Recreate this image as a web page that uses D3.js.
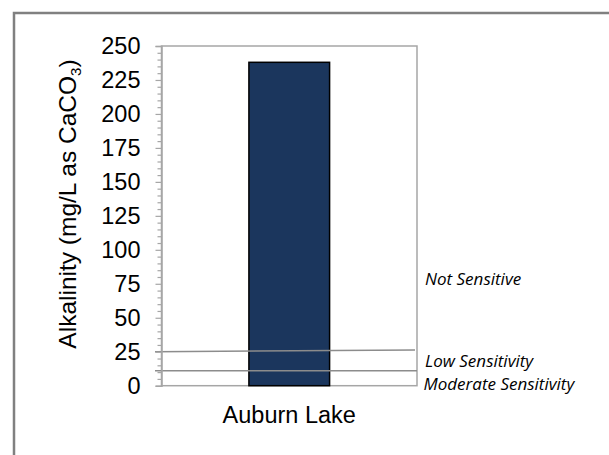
<!DOCTYPE html>
<html>
<head>
<meta charset="utf-8">
<script src="https://cdn.jsdelivr.net/npm/d3@7/dist/d3.min.js"></script>
<style>
  html, body { margin: 0; padding: 0; background: #fff; }
  svg { display: block; }
</style>
</head>
<body>
<svg id="chart" width="609" height="455"></svg>
<script>
// ---- data ----
const categories = ["Auburn Lake"];
const alkalinity = [238];
const yTickValues = [0, 25, 50, 75, 100, 125, 150, 175, 200, 225, 250];
const thresholdStart = [25, 11];
const thresholdEnd = [26.2, 11];
const zoneLabels = ["Not Sensitive", "Low Sensitivity", "Moderate Sensitivity"];
const zoneLabelValues = [74, 14, -3];

// ---- layout ----
const svg = d3.select("#chart");
const plotLeft = 161.5, plotRight = 417, plotTop = 46, plotBottom = 385.7;

const x = d3.scaleBand().domain(categories).range([plotLeft, plotRight]).padding(0.52);
const y = d3.scaleLinear().domain([0, 250]).range([plotBottom, plotTop]);

// outer border
svg.append("rect")
  .attr("x", 14).attr("y", 13).attr("width", 620).attr("height", 470)
  .attr("fill", "none").attr("stroke", "#808080").attr("stroke-width", 2.5);

// plot frame
svg.append("rect")
  .attr("x", plotLeft).attr("y", plotTop).attr("width", plotRight - plotLeft).attr("height", plotBottom - plotTop)
  .attr("fill", "none").attr("stroke", "#a6a6a6").attr("stroke-width", 1.5);

// bars
svg.selectAll("rect.bar").data(categories).enter().append("rect")
  .attr("class", "bar")
  .attr("x", d => x(d))
  .attr("y", (d, i) => y(alkalinity[i]))
  .attr("width", x.bandwidth())
  .attr("height", (d, i) => y(0) - y(alkalinity[i]))
  .attr("fill", "#1b365d")
  .attr("stroke", "#000")
  .attr("stroke-width", 1.5);

// threshold lines
svg.selectAll("line.thr").data(thresholdStart).enter().append("line")
  .attr("class", "thr")
  .attr("x1", 155).attr("x2", (d, i) => i === 0 ? 415 : plotRight)
  .attr("y1", d => y(d)).attr("y2", (d, i) => y(thresholdEnd[i]))
  .attr("stroke", "#8c8c8c").attr("stroke-width", 1.5);

// y axis (major)
const yAxis = d3.axisLeft(y).tickValues(yTickValues).tickSize(6).tickPadding(15);
const gy = svg.append("g").attr("transform", `translate(${plotLeft},0)`).call(yAxis);
gy.select(".domain").attr("stroke", "#a6a6a6").attr("stroke-width", 1.5);
gy.selectAll(".tick line").attr("stroke", "#a6a6a6").attr("stroke-width", 1.2);
gy.selectAll(".tick text")
  .attr("font-family", "'Liberation Sans', Arial, sans-serif")
  .attr("font-size", 23.5).attr("fill", "#000");

// minor ticks
const minor = d3.range(0, 251, 5).filter(v => v % 25 !== 0);
const gm = svg.append("g").attr("transform", `translate(${plotLeft},0)`)
  .call(d3.axisLeft(y).tickValues(minor).tickSize(4).tickFormat(""));
gm.select(".domain").remove();
gm.selectAll(".tick line").attr("stroke", "#a6a6a6").attr("stroke-width", 1.2);

// x category labels
svg.selectAll("text.cat").data(categories).enter().append("text")
  .attr("class", "cat")
  .attr("x", d => x(d) + x.bandwidth() / 2)
  .attr("y", 422.5)
  .attr("text-anchor", "middle")
  .attr("font-family", "'Liberation Sans', Arial, sans-serif")
  .attr("font-size", 23.5)
  .attr("fill", "#000")
  .text(d => d);

// y title
const title = svg.append("text")
  .attr("transform", "translate(76,204) rotate(-90)")
  .attr("text-anchor", "middle")
  .attr("font-family", "'Liberation Sans', Arial, sans-serif")
  .attr("font-size", 24.5)
  .attr("fill", "#000");
title.append("tspan").text("Alkalinity (mg/L as CaCO");
title.append("tspan").attr("font-size", 15).attr("dy", 5).text("3");
title.append("tspan").attr("dy", -5).text(")");

// zone labels
svg.selectAll("text.zone").data(zoneLabels).enter().append("text")
  .attr("class", "zone")
  .attr("x", (d, i) => i === 2 ? 423.5 : 425)
  .attr("y", (d, i) => y(zoneLabelValues[i]))
  .attr("font-family", "'Open Sans', sans-serif")
  .attr("font-style", "italic")
  .attr("font-size", 17)
  .attr("fill", "#000")
  .text(d => d);
</script>
</body>
</html>
